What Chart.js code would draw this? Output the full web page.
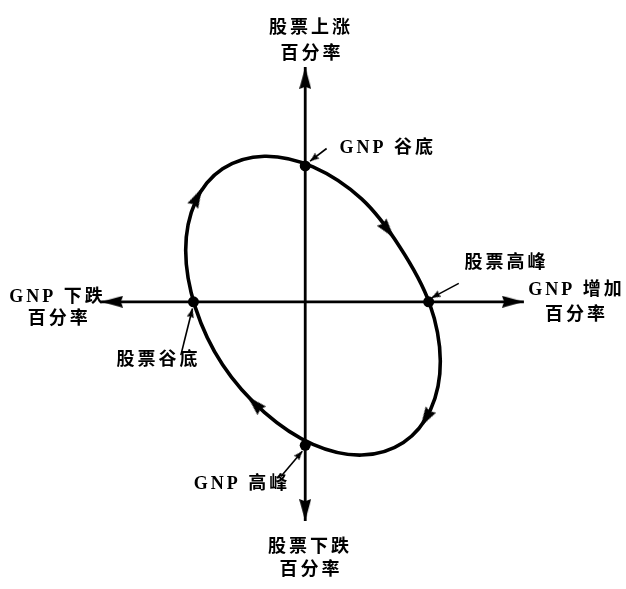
<!DOCTYPE html>
<html lang="zh">
<head>
<meta charset="utf-8">
<title>GNP 与股票周期</title>
<script src="https://cdn.jsdelivr.net/npm/chart.js@4.4.0/dist/chart.umd.min.js"></script>
<style>
  html, body { margin: 0; padding: 0; background: #fff; }
  #cycleChart { display: block; }
</style>
</head>
<body>
<canvas id="cycleChart" width="626" height="589"></canvas>
<script>
// x = GNP 变化率, y = 股票变化率; origin where the two axes cross
const cycleX = [139, 129, 101, 58, 8, -42, -85, -113, -123, -113, -85, -42, 8, 58, 97, 128];
const cycleY = [-61, -111, -145, -158, -147, -114, -65, -6, 53, 103, 137, 150, 139, 106, 57, -2];

// turning points: GNP 谷底, 股票高峰, GNP 高峰, 股票谷底
const turnX = [0, 127, 0, -115];
const turnY = [140, 0, -148, 0];

// direction arrows sitting on the loop
const flowX = [-111, 85, 124, -52];
const flowY = [108, 74, -120, -105];

// axis ends
const gnpAxisX = [-210, 225];
const stockAxisY = [242, -226];

// small arrows from the labels to the turning points
const leaderFromX = [22, 158, -25, -128];
const leaderFromY = [158, 19, -180, -55];
const leaderToX = [5, 130, -3, -116];
const leaderToY = [145, 4, -154, -7];

const labelText = ['股票上涨', '百分率', '股票下跌', '百分率', 'GNP 下跌', '百分率', 'GNP 增加', '百分率',
                   'GNP 谷底', '股票高峰', 'GNP 高峰', '股票谷底'];
const labelX = [6, 7, 5, 6, -255, -253, 279, 279, 85, 207, -65, -151];
const labelY = [282, 255, -253, -277, 5, -18, 12, -14, 158, 40, -188, -60];

// arrow heading, degrees clockwise from straight up
const flowTurn = [27, 142, 211, -45];

function arrowHead(len, wide, tipAtCenter) {
    const c = document.createElement('canvas');
    c.width = wide;
    c.height = tipAtCenter ? len * 2 : len;
    const g = c.getContext('2d');
    const top = tipAtCenter ? len : 0;
    g.fillStyle = '#000';
    g.beginPath();
    g.moveTo(wide / 2, top);
    g.lineTo(wide, top + len);
    g.lineTo(wide / 2, top + len * 0.9);
    g.lineTo(0, top + len);
    g.closePath();
    g.fill();
    return c;
}

const axisHead = arrowHead(22, 12, true);
const flowHead = arrowHead(20, 12, false);
const leaderHead = arrowHead(9, 7, true);

const ring = cycleX.map((x, i) => ({x: x, y: cycleY[i]}));
const loop = [ring[ring.length - 1], ...ring, ring[0], ring[1]];

const leaderSets = leaderFromX.map((fx, i) => {
    const dx = leaderToX[i] - fx;
    const dy = leaderToY[i] - leaderFromY[i];
    const turn = Math.atan2(-dy, dx) * 180 / Math.PI + 90;
    return {
        data: [{x: fx, y: leaderFromY[i]}, {x: leaderToX[i], y: leaderToY[i]}],
        showLine: true,
        borderColor: '#000',
        borderWidth: 1.6,
        pointRadius: [0, 4],
        pointStyle: leaderHead,
        pointRotation: turn
    };
});

const labelPlugin = {
    id: 'cycleLabels',
    afterDatasetsDraw(chart) {
        const {ctx, scales: {x, y}} = chart;
        ctx.save();
        ctx.fillStyle = '#000';
        ctx.textAlign = 'center';
        ctx.textBaseline = 'middle';
        ctx.font = 'bold 18px "Liberation Serif", "Noto Sans CJK SC"';
        ctx.letterSpacing = '3px';
        labelText.forEach((t, i) => {
            ctx.fillText(t, x.getPixelForValue(labelX[i]), y.getPixelForValue(labelY[i]));
        });
        ctx.restore();
    }
};

const ctx = document.getElementById('cycleChart').getContext('2d');
new Chart(ctx, {
    type: 'scatter',
    data: {
        datasets: [
            {
                data: turnX.map((x, i) => ({x: x, y: turnY[i]})),
                pointStyle: 'circle',
                pointRadius: 5.5,
                pointBackgroundColor: '#000',
                pointBorderColor: '#000',
                pointBorderWidth: 0
            },
            {
                data: flowX.map((x, i) => ({x: x, y: flowY[i]})),
                pointStyle: flowHead,
                pointRadius: 6,
                pointRotation: flowTurn
            },
            ...leaderSets,
            {
                data: loop,
                showLine: true,
                tension: 0.35,
                borderColor: '#000',
                borderWidth: 3.6,
                pointRadius: 0,
                segment: {
                    borderColor: c => (c.p0DataIndex === 0 || c.p1DataIndex === loop.length - 1) ? 'rgba(0,0,0,0)' : '#000'
                }
            },
            {
                data: gnpAxisX.map(x => ({x: x, y: 0})),
                showLine: true,
                borderColor: '#000',
                borderWidth: 2.8,
                pointRadius: 6,
                pointStyle: axisHead,
                pointRotation: [270, 90]
            },
            {
                data: stockAxisY.map(y => ({x: 0, y: y})),
                showLine: true,
                borderColor: '#000',
                borderWidth: 2.8,
                pointRadius: 6,
                pointStyle: axisHead,
                pointRotation: [0, 180]
            }
        ]
    },
    options: {
        responsive: false,
        animation: false,
        events: [],
        layout: { padding: 0 },
        plugins: {
            legend: { display: false },
            tooltip: { enabled: false }
        },
        scales: {
            x: { type: 'linear', min: -305, max: 321, display: false },
            y: { type: 'linear', min: -287, max: 302, display: false }
        }
    },
    plugins: [labelPlugin]
});
</script>
</body>
</html>
